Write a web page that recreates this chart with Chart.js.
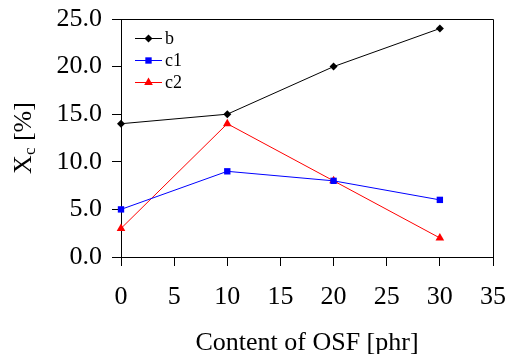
<!DOCTYPE html>
<html><head><meta charset="utf-8">
<style>html,body{margin:0;padding:0;background:#fff;overflow:hidden}#wrap{width:507px;height:354px;position:relative}</style>
<script src="https://cdn.jsdelivr.net/npm/chart.js@4.4.0/dist/chart.umd.min.js"></script>
</head><body><div id="wrap"><canvas id="c" width="507" height="354"></canvas></div>
<script>
const xValues = [0, 10, 20, 30];
const seriesB = [14, 15, 20, 24];
const seriesC1 = [5, 9, 8, 6];
const seriesC2 = [3, 14, 8, 2];
const seriesNames = ['b', 'c1', 'c2'];
const xTickValues = [0, 5, 10, 15, 20, 25, 30, 35];
const yTickValues = [0, 5, 10, 15, 20, 25];
const xTitle = 'Content of OSF [phr]';
const yTitleMain = 'X', yTitleSub = 'c', yTitleUnit = ' [%]';

const FONT = "'Liberation Serif', 'Times New Roman', serif";
Chart.defaults.font.family = FONT;
Chart.defaults.color = '#000';

function pts(vals) { return xValues.map((x, i) => ({x: x, y: vals[i]})); }

const styles = [
  {color: '#000000', shape: 'rectRot', r: 4},
  {color: '#0000ff', shape: 'rect', r: 4.5},
  {color: '#ff0000', shape: 'triangle', r: 5}
];
const allSeries = [seriesB, seriesC1, seriesC2];

const datasets = allSeries.map((s, i) => ({
  label: seriesNames[i],
  data: pts(s),
  borderColor: styles[i].color,
  backgroundColor: styles[i].color,
  borderWidth: 1,
  pointStyle: styles[i].shape,
  pointRadius: styles[i].r,
  pointHoverRadius: styles[i].r,
  pointBorderWidth: 0,
  tension: 0,
  clip: false
}));

function drawMarker(ctx, shape, x, y, r, color) {
  ctx.save();
  ctx.fillStyle = color;
  ctx.beginPath();
  if (shape === 'rectRot') {
    ctx.moveTo(x, y - r); ctx.lineTo(x + r, y); ctx.lineTo(x, y + r); ctx.lineTo(x - r, y); ctx.closePath();
  } else if (shape === 'rect') {
    const s = r * Math.SQRT1_2;
    ctx.rect(x - s, y - s, 2 * s, 2 * s);
  } else {
    ctx.moveTo(x, y - r); ctx.lineTo(x + r * 0.866, y + r * 0.5); ctx.lineTo(x - r * 0.866, y + r * 0.5); ctx.closePath();
  }
  ctx.fill();
  ctx.restore();
}

function noPad(s) { s.paddingLeft = 0; s.paddingRight = 0; s.paddingTop = 0; s.paddingBottom = 0; }

const decor = {
  id: 'decor',
  afterDatasetsDraw(chart) {
    const ctx = chart.ctx, a = chart.chartArea;
    ctx.save();
    ctx.strokeStyle = '#000';
    ctx.lineWidth = 1;
    ctx.beginPath();
    ctx.moveTo(Math.round(a.left) + 0.5, Math.round(a.top) + 0.5);
    ctx.lineTo(Math.round(a.right) + 0.5, Math.round(a.top) + 0.5);
    ctx.lineTo(Math.round(a.right) + 0.5, Math.round(a.bottom) + 0.5);
    ctx.stroke();
    // legend
    const lx0 = a.left + 14, lx1 = a.left + 41, ly0 = a.top + 19, dy = 22;
    chart.data.datasets.forEach((d, i) => {
      const y = ly0 + i * dy;
      ctx.strokeStyle = d.borderColor;
      ctx.lineWidth = 1;
      ctx.beginPath();
      ctx.moveTo(lx0, Math.round(y) + 0.5); ctx.lineTo(lx1, Math.round(y) + 0.5);
      ctx.stroke();
      drawMarker(ctx, d.pointStyle, (lx0 + lx1) / 2, Math.round(y) + 0.5, d.pointRadius, d.backgroundColor);
      ctx.fillStyle = '#000';
      ctx.font = '18px ' + FONT;
      ctx.textAlign = 'left';
      ctx.textBaseline = 'alphabetic';
      ctx.fillText(d.label, lx1 + 3, y + 5.5);
    });
    // x title
    ctx.fillStyle = '#000';
    ctx.font = '26px ' + FONT;
    ctx.textAlign = 'center';
    ctx.textBaseline = 'alphabetic';
    ctx.fillText(xTitle, (a.left + a.right) / 2, 350);
    // y title (rotated, with subscript)
    ctx.save();
    ctx.translate(31, (a.top + a.bottom) / 2);
    ctx.rotate(-Math.PI / 2);
    ctx.textAlign = 'left';
    const fBig = '26px ' + FONT, fSmall = '17px ' + FONT;
    ctx.font = fBig; const w1 = ctx.measureText(yTitleMain).width;
    ctx.font = fSmall; const w2 = ctx.measureText(yTitleSub).width;
    ctx.font = fBig; const w3 = ctx.measureText(yTitleUnit).width;
    let x = -(w1 + w2 + w3) / 2;
    ctx.font = fBig; ctx.fillText(yTitleMain, x, 0); x += w1;
    ctx.font = fSmall; ctx.fillText(yTitleSub, x, 4); x += w2;
    ctx.font = fBig; ctx.fillText(yTitleUnit, x, 0);
    ctx.restore();
    ctx.restore();
  }
};

new Chart(document.getElementById('c'), {
  type: 'line',
  data: {datasets: datasets},
  options: {
    responsive: false,
    animation: false,
    devicePixelRatio: 1,
    layout: {padding: {left: 0, right: 14, top: 19, bottom: 0}},
    plugins: {legend: {display: false}, tooltip: {enabled: false}, title: {display: false}},
    scales: {
      x: {
        type: 'linear', min: 0, max: 35,
        afterBuildTicks(s) { s.ticks = xTickValues.map(v => ({value: v})); },
        afterFit(s) { s.height = 97; noPad(s); },
        ticks: {font: {size: 26}, color: '#000', padding: 16, maxRotation: 0, autoSkip: false,
                callback: v => String(v)},
        grid: {drawOnChartArea: false, tickLength: 9, color: '#000', lineWidth: 1},
        border: {color: '#000', width: 1}
      },
      y: {
        type: 'linear', min: 0, max: 25,
        afterBuildTicks(s) { s.ticks = yTickValues.map(v => ({value: v})); },
        afterFit(s) { s.width = 121; noPad(s); },
        ticks: {font: {size: 26}, color: '#000', padding: 10, autoSkip: false,
                callback: v => Number(v).toFixed(1)},
        grid: {drawOnChartArea: false, tickLength: 9, color: '#000', lineWidth: 1},
        border: {color: '#000', width: 1}
      }
    }
  },
  plugins: [decor]
});
</script>
</body></html>
